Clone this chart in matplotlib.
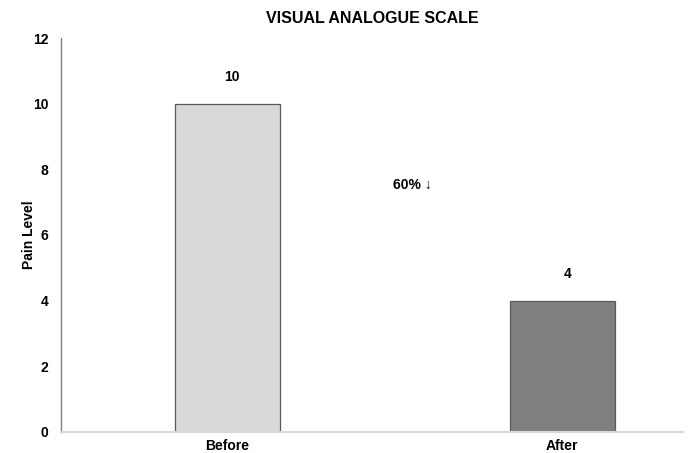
import matplotlib
matplotlib.use("Agg")
import matplotlib.pyplot as plt

plt.rcParams['font.family'] = ['Liberation Sans', 'DejaVu Sans']
plt.rcParams['font.weight'] = 'bold'

categories = ["Before", "After"]
pain_level = [10, 4]
bar_colors = ["#d9d9d9", "#808080"]
change_label = "60% \u2193"

fig = plt.figure(figsize=(6.9, 4.53), dpi=100)
ax = fig.add_axes([0.0884, 0.0464, 0.9015, 0.8697])

x = list(range(len(categories)))
bars = ax.bar(x, pain_level, width=0.313, color=bar_colors,
              edgecolor="#595959", linewidth=0.9, zorder=2)

for xi, v in zip(x, pain_level):
    ax.text(xi + 0.015, v + 0.6, str(v), ha="center", va="bottom",
            fontsize=10, fontweight="bold")

ax.text(0.552, 7.52, change_label, ha="center", va="center",
        fontsize=10, fontweight="bold")

ax.set_xlim(-0.496, 1.361)
ax.set_ylim(0, 12)
ax.set_yticks(range(0, 13, 2))
ax.set_xticks(x)
ax.set_xticklabels(categories)
ax.tick_params(axis="both", length=0, labelsize=10)
ax.tick_params(axis="y", pad=9)
ax.tick_params(axis="x", pad=5)

ax.set_ylabel("Pain Level", fontsize=10, fontweight="bold")
ax.yaxis.set_label_coords(-0.04, 0.5)
ax.set_title("VISUAL ANALOGUE SCALE", fontsize=11.5, fontweight="bold", pad=11)

for side in ("top", "right"):
    ax.spines[side].set_visible(False)
ax.spines["left"].set_color("#808080")
ax.spines["left"].set_linewidth(1.0)
ax.spines["bottom"].set_color("#d9d9d9")
ax.spines["bottom"].set_linewidth(1.5)

fig.savefig("out.png", dpi=100)
